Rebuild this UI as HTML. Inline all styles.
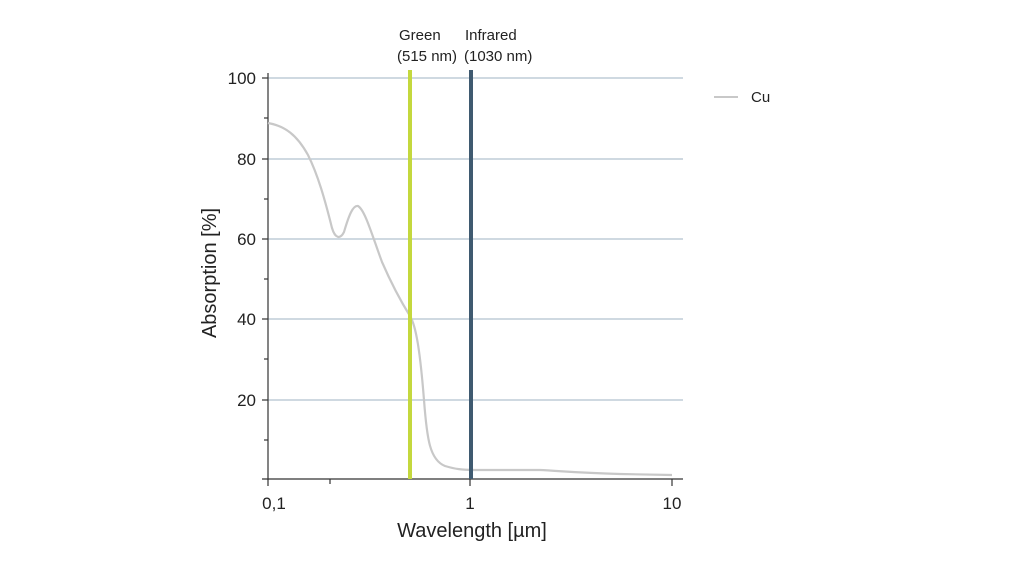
<!DOCTYPE html>
<html><head><style>body{margin:0;background:#fff}svg{display:block}text{font-family:"Liberation Sans",sans-serif;fill:#222}</style></head><body>
<svg width="1024" height="576" viewBox="0 0 1024 576">
<g stroke="#9fb3c3" stroke-width="1">
<line x1="268" y1="78" x2="683" y2="78"/><line x1="268" y1="159" x2="683" y2="159"/><line x1="268" y1="239" x2="683" y2="239"/><line x1="268" y1="319" x2="683" y2="319"/><line x1="268" y1="400" x2="683" y2="400"/>
</g>
<g stroke="#333" stroke-width="1.2">
<line x1="268" y1="73" x2="268" y2="480"/><line x1="262" y1="479" x2="683" y2="479"/>
<line x1="262" y1="78" x2="268" y2="78"/><line x1="262" y1="159" x2="268" y2="159"/><line x1="262" y1="239" x2="268" y2="239"/><line x1="262" y1="319" x2="268" y2="319"/><line x1="262" y1="400" x2="268" y2="400"/>
<line x1="264" y1="118" x2="268" y2="118"/><line x1="264" y1="199" x2="268" y2="199"/><line x1="264" y1="279" x2="268" y2="279"/><line x1="264" y1="359" x2="268" y2="359"/><line x1="264" y1="440" x2="268" y2="440"/>
<line x1="268" y1="479" x2="268" y2="486"/><line x1="330" y1="479" x2="330" y2="484"/><line x1="470" y1="479" x2="470" y2="486"/><line x1="672" y1="479" x2="672" y2="486"/>
</g>
<path d="M268,123 C285,126 297,135 308,155 C318,175 325,200 332,228 C335,238 340,240 344,232 C349,215 353,205 358,206 C365,210 372,235 382,262 C392,285 400,300 410,316 C416,326 420,350 424,400 C427,440 430,460 445,466 C455,469 462,470 475,470 L540,470 C560,471 580,473 620,474 L672,475" fill="none" stroke="#c8c8c8" stroke-width="2.2"/>
<line x1="410" y1="70" x2="410" y2="479" stroke="#c4d83e" stroke-width="4"/>
<line x1="471" y1="70" x2="471" y2="479" stroke="#3f5a70" stroke-width="4"/>
<g font-size="17" text-anchor="end"><text x="256" y="84">100</text><text x="256" y="165">80</text><text x="256" y="245">60</text><text x="256" y="325">40</text><text x="256" y="406">20</text></g>
<g font-size="17" text-anchor="middle"><text x="274" y="509">0,1</text><text x="470" y="509">1</text><text x="672" y="509">10</text></g>
<text x="472" y="537" font-size="20" text-anchor="middle">Wavelength [µm]</text>
<text transform="translate(216,273) rotate(-90)" font-size="20" text-anchor="middle">Absorption [%]</text>
<g font-size="15"><text x="399" y="40">Green</text><text x="397" y="61">(515 nm)</text><text x="465" y="40">Infrared</text><text x="464" y="61">(1030 nm)</text></g>
<line x1="714" y1="97" x2="738" y2="97" stroke="#c8c8c8" stroke-width="2"/>
<text x="751" y="102" font-size="15">Cu</text>
</svg>
</body></html>
